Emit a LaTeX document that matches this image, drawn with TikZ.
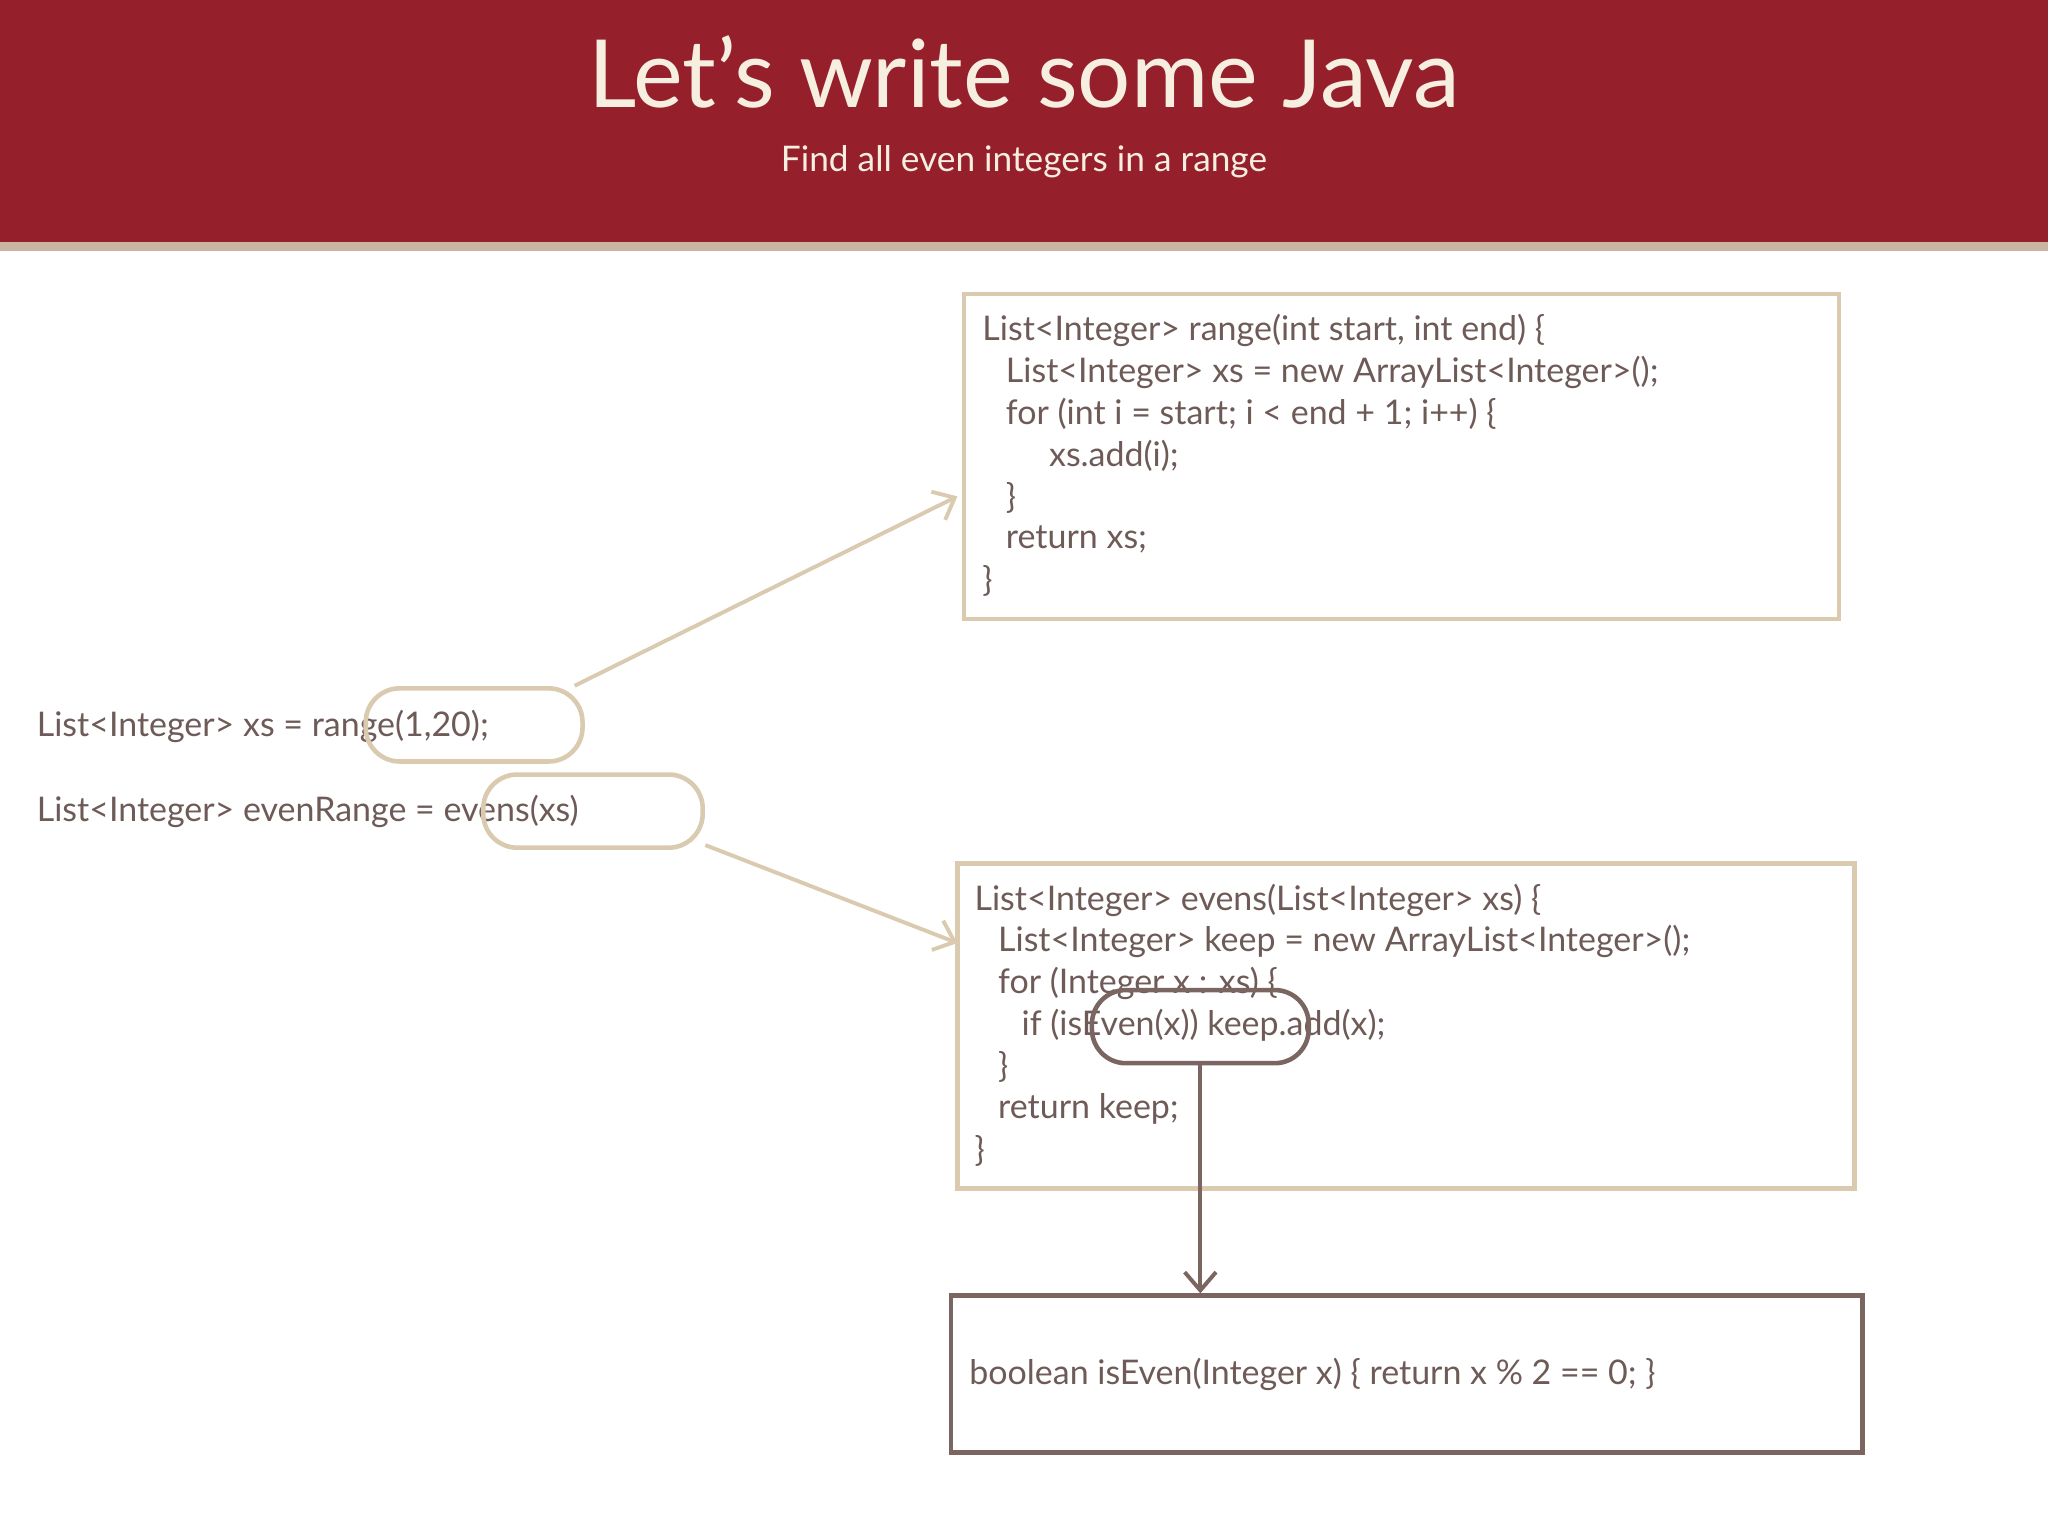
\documentclass[tikz,border=0pt]{standalone}
\usepackage{fontspec}
\setmainfont{Lato}
\usetikzlibrary{arrows.meta}
\definecolor{hdr}{HTML}{961F2C}
\definecolor{band}{HTML}{C9B5A2}
\definecolor{tan}{HTML}{DACAB0}
\definecolor{txt}{HTML}{6E5B58}
\definecolor{dk}{HTML}{7A6560}
\definecolor{cream}{HTML}{F6EEDF}
\begin{document}
\begin{tikzpicture}[x=1pt,y=-1pt,
  code/.style={anchor=west,inner sep=0pt,text=txt,font=\fontsize{26}{30}\selectfont},
  box/.style={draw=#1,line width=3.5pt,inner sep=0pt},
  oval/.style={draw=#1,line width=3.5pt,rounded corners=26pt,inner sep=0pt},
  arr/.style={draw=#1,line width=3pt,-{Straight Barb[length=14pt,width=24pt]}}]
\useasboundingbox (0,0) rectangle (1568,1176);
\fill[hdr] (0,0) rectangle (1568,185);
\fill[band] (0,185) rectangle (1568,192);
\node[text=cream,font=\fontsize{72}{80}\selectfont] (title) at (784,55) {Let’s write some Java};
\node[text=cream,font=\fontsize{27}{30}\selectfont] (sub) at (784,124) {Find all even integers in a range};
% left code
\node[code] (l1) at (28,556) {List<Integer> xs = range(1,20);};
\node[code] (l2) at (28,621) {List<Integer> evenRange = evens(xs)};
\node[oval=tan,minimum width=166pt,minimum height=56pt] (o1) at (363,555) {};
\node[oval=tan,minimum width=168pt,minimum height=56pt] (o2) at (454,621) {};
% box 1
\node[box=tan,minimum width=670pt,minimum height=249pt] (b1) at (1073,349.5) {};
\node[code] (a1) at (752,253) {List<Integer> range(int start, int end) \{};
\node[code] (a2) at (770,285) {List<Integer> xs = new ArrayList<Integer>();};
\node[code] (a3) at (770,317) {for (int i = start; i < end + 1; i++) \{};
\node[code] (a4) at (803,349) {xs.add(i);};
\node[code] (a5) at (770,381) {\}};
\node[code] (a6) at (770,413) {return xs;};
\node[code] (a7) at (752,445) {\}};
% box 2
\node[box=tan,minimum width=687pt,minimum height=249pt] (b2) at (1076.5,785.5) {};
\node[code] (c1) at (746,689) {List<Integer> evens(List<Integer> xs) \{};
\node[code] (c2) at (764,721) {List<Integer> keep = new ArrayList<Integer>();};
\node[code] (c3) at (764,753) {for (Integer x : xs) \{};
\node[code] (c4) at (782,785) {if (isEven(x)) keep.add(x);};
\node[code] (c5) at (764,817) {\}};
\node[code] (c6) at (764,849) {return keep;};
\node[code] (c7) at (746,881) {\}};
\node[oval=dk,minimum width=166pt,minimum height=56pt] (o3) at (919,786) {};
% box 3
\node[box=dk,minimum width=698pt,minimum height=120pt] (b3) at (1077,1052) {};
\node[code] (d1) at (742,1052) {boolean isEven(Integer x) \{ return x \% 2 == 0; \}};
% arrows
\draw[arr=tan] (440,525) -- (733,380);
\draw[arr=tan] (540,647) -- (733,722);
\draw[arr=dk] (o3.south) -- (b3.north -| o3.south);
\end{tikzpicture}
\end{document}
